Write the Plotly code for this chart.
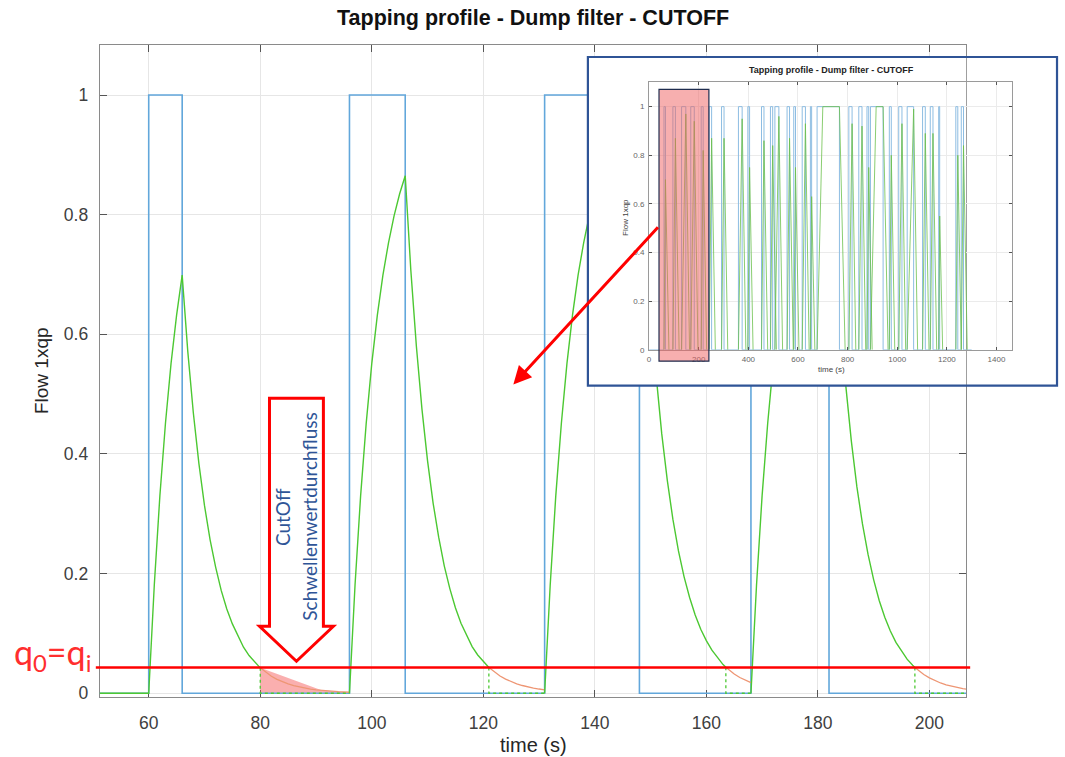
import plotly.graph_objects as go

W, H = 1065, 757
H_EFF = 750.7   # vertical pixel scale observed in the rendered page

# ---------------- main chart data ----------------
pulse_start = [60, 96, 131, 168]
pulse_end = [66, 106, 148, 182]
t_first, t_last = 51, 206.6
threshold = 0.043

# filtered flow (solid green), segments separated by None
resp_t = [51, 60, 61, 62, 63, 64, 65, 66, 67, 68, 69, 70, 71, 72, 73, 74, 75, 76, 77, 78, 79, 80, None,
          96, 97, 98, 99, 100, 101, 102, 103, 104, 105, 106, 107, 108, 109, 110, 111, 112, 113, 114, 115,
          116, 117, 118, 119, 120, 121, None,
          131, 132, 133, 134, 135, 136, 137, 138, 139, 140, 141, 142, 143, 144, 145, 146, 147, 148, 149,
          150, 151, 152, 153, 154, 155, 156, 157, 158, 159, 160, 161, 162, 163, 163.5, None,
          168, 169, 170, 171, 172, 173, 174, 175, 176, 177, 178, 179, 180, 181, 182, 183, 184, 185, 186,
          187, 188, 189, 190, 191, 192, 193, 194, 195, 196, 197, 197.4]
resp_v = [0, 0, 0.181, 0.330, 0.451, 0.551, 0.632, 0.699, 0.572, 0.469, 0.384, 0.314, 0.257, 0.211,
          0.172, 0.141, 0.116, 0.095, 0.077, 0.063, 0.052, 0.0425, None,
          0, 0.181, 0.330, 0.451, 0.551, 0.632, 0.699, 0.753, 0.798, 0.835, 0.865, 0.708, 0.580, 0.475,
          0.389, 0.318, 0.261, 0.213, 0.175, 0.143, 0.117, 0.096, 0.078, 0.064, 0.053, 0.043, None,
          0, 0.181, 0.330, 0.451, 0.551, 0.632, 0.699, 0.753, 0.798, 0.835, 0.865, 0.889, 0.909, 0.926,
          0.939, 0.950, 0.959, 0.967, 0.792, 0.648, 0.531, 0.434, 0.356, 0.291, 0.238, 0.195, 0.160,
          0.131, 0.107, 0.088, 0.072, 0.059, 0.048, 0.0436, None,
          0, 0.181, 0.330, 0.451, 0.551, 0.632, 0.699, 0.753, 0.798, 0.835, 0.865, 0.889, 0.909, 0.926,
          0.939, 0.769, 0.629, 0.515, 0.422, 0.345, 0.283, 0.232, 0.190, 0.155, 0.127, 0.104, 0.085,
          0.070, 0.057, 0.047, 0.0432]

# cut-off part (green dotted drop to zero)
cut_t = [80, 80, 96, None, 121, 121, 131, None, 163.5, 163.5, 168, None, 197.4, 197.4, 206.6]
cut_v = [0.0425, 0, 0, None, 0.043, 0, 0, None, 0.0436, 0, 0, None, 0.0432, 0, 0]

# un-cut tail below threshold (orange)
tail_t = [80, 81, 82, 83, 84, 85, 86, 87, 88, 89, 90, 91, 92, 93, 94, 95, 96, None,
          121, 122, 123, 124, 125, 126, 127, 128, 129, 130, 131, None,
          163.5, 164, 165, 166, 167, 168, None,
          197.4, 198, 199, 200, 201, 202, 203, 204, 205, 206, 206.6]
tail_v = [0.0425, 0.0348, 0.0285, 0.0233, 0.0191, 0.0156, 0.0128, 0.0105, 0.0086, 0.0070, 0.0058,
          0.0047, 0.0038, 0.0031, 0.0026, 0.0021, 0.0017, None,
          0.043, 0.0352, 0.0288, 0.0236, 0.0193, 0.0158, 0.0130, 0.0106, 0.0087, 0.0071, 0.0058, None,
          0.0436, 0.0394, 0.0323, 0.0264, 0.0216, 0.0177, None,
          0.0432, 0.0383, 0.0314, 0.0257, 0.0210, 0.0172, 0.0141, 0.0116, 0.0095, 0.0077, 0.0070]

# highlighted lost volume
shade_t = [80, 91, 95, 95, 80]
shade_v = [0.0425, 0.005, 0.002, 0, 0]

x_ticks = [60, 80, 100, 120, 140, 160, 180, 200]
y_ticks = [0, 0.2, 0.4, 0.6, 0.8, 1]
y_ticktext = ["0", "0.2", "0.4", "0.6", "0.8", "1"]

# ---------------- inset (overview) data ----------------
in_start = [60, 96, 131, 168, 210, 242, 292, 360, 398, 453, 489, 507, 556, 583, 617, 650, 677, 805,
            845, 878, 892, 968, 1006, 1040, 1102, 1133, 1167, 1236, 1258]
in_end = [66, 106, 148, 182, 218, 252, 302, 375, 405, 463, 498, 523, 566, 590, 630, 655, 767, 818,
          858, 885, 943, 976, 1019, 1066, 1113, 1144, 1171, 1244, 1267]
in_knee = [66, 106, 148, 182, 218, 252, 302, 375, 405, 463, 498, 523, 566, 590, 630, 655, 700, 818,
           858, 885, 915, 976, 1019, 1066, 1113, 1144, 1171, 1244, 1267]
in_peak = [0.70, 0.87, 0.97, 0.94, 0.82, 0.87, 0.87, 0.95, 0.75, 0.86, 0.84, 0.96, 0.87, 0.75, 0.93,
           0.63, 1.0, 0.93, 0.92, 0.75, 1.0, 0.80, 0.93, 0.99, 0.89, 0.89, 0.55, 0.80, 0.84]
in_cut = [80, 121, 163, 197, 232, 267, 317, 390, 419, 478, 513, 538, 581, 604, 645, 668, 790, 833,
          873, 899, 963, 990, 1034, 1082, 1128, 1159, 1183, 1258, 1282]
in_t_first, in_t_last = 0, 1300
in_x_ticks = [0, 200, 400, 600, 800, 1000, 1200, 1400]
in_y_ticks = [0, 0.2, 0.4, 0.6, 0.8, 1]
zoom_window = [40, 241]

# ---------------- layout geometry (figure pixels) ----------------
MAIN_L, MAIN_R, MAIN_T, MAIN_B = 98, 966, 45, 697
main_xr = [51.23, 206.6]
main_yr = [-0.0067, 1.0836]
IN_L, IN_R, IN_T, IN_B = 648.3, 1012.3, 82.3, 349.7
in_xr = [0, 1464]
in_yr = [0, 1.10]
FRAME = dict(l=587, r=1057, t=57, b=385.5)


def px(x):
    return x / W


def py(y):
    return 1 - y / H_EFF


def main_t(x):
    return main_xr[0] + (x - MAIN_L) / (MAIN_R - MAIN_L) * (main_xr[1] - main_xr[0])


def main_v(y):
    return main_yr[0] + (MAIN_B - y) / (MAIN_B - MAIN_T) * (main_yr[1] - main_yr[0])


def step_series(starts, ends, t0, t1):
    t, v = [t0], [0]
    for s, e in zip(starts, ends):
        t += [s, s, e, e]
        v += [0, 1, 1, 0]
    t.append(t1)
    v.append(0)
    return t, v


BLUE = "#62A7DB"
GREEN = "#4CC832"
ORANGE = "#EE9674"
FONT = "Liberation Sans, Arial, sans-serif"

fig = go.Figure()

# main traces
blue_t, blue_v = step_series(pulse_start, pulse_end, t_first, t_last)
fig.add_trace(go.Scatter(x=shade_t, y=shade_v, fill="toself", fillcolor="rgba(245,95,95,0.5)",
                         line=dict(width=0), mode="lines", hoverinfo="skip"))
fig.add_trace(go.Scatter(x=blue_t, y=blue_v, mode="lines", line=dict(color=BLUE, width=1.6)))
fig.add_trace(go.Scatter(x=tail_t, y=tail_v, mode="lines", line=dict(color=ORANGE, width=1.3)))
fig.add_trace(go.Scatter(x=cut_t, y=cut_v, mode="lines", line=dict(color=GREEN, width=1.3, dash="dot")))
fig.add_trace(go.Scatter(x=resp_t, y=resp_v, mode="lines", line=dict(color=GREEN, width=1.4)))

# white panel hiding main curves behind the inset
cl, cr = main_t(FRAME["l"]), main_t(FRAME["r"])
ct, cb = main_v(FRAME["t"]), main_v(FRAME["b"])
fig.add_trace(go.Scatter(x=[cl, cr, cr, cl, cl], y=[cb, cb, ct, ct, cb], fill="toself",
                         fillcolor="white", line=dict(width=0), mode="lines", hoverinfo="skip"))

# inset traces
ib_t, ib_v = step_series(in_start, in_end, in_t_first, in_t_last)
ig_t, ig_v = [], []
for s, k, e, p, c in zip(in_start, in_knee, in_end, in_peak, in_cut):
    ig_t += [s, k, e, c, None]
    ig_v += [0, p, p, 0, None]
fig.add_trace(go.Scatter(x=ib_t, y=ib_v, mode="lines", line=dict(color="#8DBDE2", width=1),
                         xaxis="x2", yaxis="y2"))
fig.add_trace(go.Scatter(x=ig_t, y=ig_v, mode="lines", line=dict(color="#6CC04C", width=0.8),
                         xaxis="x2", yaxis="y2"))

axis_common = dict(showline=True, linecolor="#8a8a8a", linewidth=1.4, mirror="ticks", ticks="inside",
                   tickcolor="#555555", tickwidth=1.2, ticklen=7, showgrid=True, gridcolor="#E6E6E6",
                   gridwidth=1, zeroline=False, layer="below traces",
                   tickfont=dict(family=FONT, size=17.5, color="#404040"))

inset_axis = dict(showline=True, linecolor="#9a9a9a", linewidth=1, mirror="ticks", ticks="inside",
                  ticklen=3, tickcolor="#555", showgrid=True, gridcolor="#EBEBEB", zeroline=False,
                  tickfont=dict(family=FONT, size=8, color="#666"), ticklabelstandoff=2)

fig.update_layout(
    width=W, height=H, autosize=False, margin=dict(l=0, r=0, t=0, b=0),
    paper_bgcolor="white", plot_bgcolor="rgba(0,0,0,0)", showlegend=False,
    xaxis=dict(domain=[px(MAIN_L), px(MAIN_R)], range=main_xr, tickvals=x_ticks,
               ticklabelstandoff=10, anchor="y", **axis_common),
    yaxis=dict(domain=[py(MAIN_B), py(MAIN_T)], range=main_yr, tickvals=y_ticks, ticktext=y_ticktext,
               ticklabelstandoff=7, anchor="x", **axis_common),
    xaxis2=dict(domain=[px(IN_L), px(IN_R)], range=in_xr, tickvals=in_x_ticks, anchor="y2", **inset_axis),
    yaxis2=dict(domain=[py(IN_B), py(IN_T)], range=in_yr, tickvals=in_y_ticks,
                ticktext=["0", "0.2", "0.4", "0.6", "0.8", "1"], anchor="x2", **inset_axis),
)

# shapes
arrow_pts = [(268, 398), (322, 398), (322, 626), (332, 626), (295, 661), (258, 626), (268, 626)]
path = "M " + " L ".join(f"{px(x):.5f},{py(y):.5f}" for x, y in arrow_pts) + " Z"
fig.add_shape(type="path", path=path, xref="paper", yref="paper", line=dict(color="#FF0000", width=3),
              fillcolor="rgba(0,0,0,0)", layer="above")
fig.add_shape(type="line", xref="paper", yref="y", x0=px(94), x1=px(970), y0=threshold, y1=threshold,
              line=dict(color="#FF0000", width=2.5), layer="above")
fig.add_shape(type="rect", xref="paper", yref="paper", x0=px(FRAME["l"]), x1=px(FRAME["r"]),
              y0=py(FRAME["b"]), y1=py(FRAME["t"]), line=dict(color="#2F5496", width=2.2),
              fillcolor="rgba(0,0,0,0)", layer="above")
fig.add_shape(type="rect", xref="x2", yref="paper", x0=zoom_window[0], x1=zoom_window[1],
              y0=py(361), y1=py(89.3), line=dict(color="#1F2D4F", width=1.2),
              fillcolor="rgba(240,95,95,0.5)", layer="above")

# annotations
ann = [
    dict(text="<b>Tapping profile - Dump filter - CUTOFF</b>", x=px(532), y=py(18),
         font=dict(family=FONT, size=21.5, color="#111111")),
    dict(text="Flow 1xqp", x=px(39), y=py(370), textangle=-90, font=dict(family=FONT, size=19, color="#262626")),
    dict(text="time (s)", x=px(532), y=py(745), font=dict(family=FONT, size=20, color="#262626")),
    dict(text="q<sub>0</sub>=q<sub>i</sub>", x=px(91), y=py(654), xanchor="right",
         font=dict(family="Lato, sans-serif", size=34, color="#FF2E2E")),
    dict(text="CutOff", x=px(281.7), y=py(516.7), textangle=-90,
         font=dict(family="Lato, sans-serif", size=19, color="#2F5597")),
    dict(text="Schwellenwertdurchfluss", x=px(308.3), y=py(516.7), textangle=-90,
         font=dict(family="Lato, sans-serif", size=19, color="#2F5597")),
    dict(text="<b>Tapping profile - Dump filter - CUTOFF</b>", x=px(831), y=py(70),
         font=dict(family=FONT, size=9, color="#222222")),
    dict(text="Flow 1xqp", x=px(624), y=py(217), textangle=-90, font=dict(family=FONT, size=8, color="#444")),
    dict(text="time (s)", x=px(831), y=py(369), font=dict(family=FONT, size=8, color="#444")),
]
for a in ann:
    fig.add_annotation(xref="paper", yref="paper", showarrow=False,
                       xanchor=a.pop("xanchor", "center"), yanchor="middle", **a)

fig.add_annotation(xref="paper", yref="paper", x=px(512.3), y=py(384.3), ax=146, ay=-158.6,
                   axref="pixel", ayref="pixel", showarrow=True, arrowhead=2, arrowsize=1.2,
                   arrowwidth=3, arrowcolor="#FF0000", text="")

fig.write_html("out.html", config={"displayModeBar": False, "responsive": False},
               post_script="document.body.style.margin='0';")
